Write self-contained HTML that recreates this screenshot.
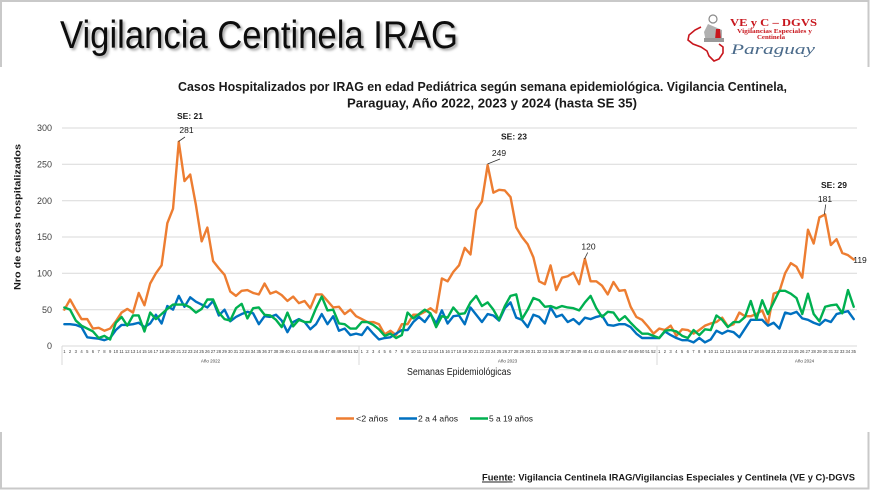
<!DOCTYPE html>
<html><head><meta charset="utf-8">
<style>
html,body{margin:0;padding:0;background:#fff;}
body{width:870px;height:491px;position:relative;overflow:hidden;font-family:"Liberation Sans",sans-serif;}
svg{position:absolute;left:0;top:0;}
.ticks{position:absolute;top:349px;height:6px;display:flex;font-family:"Liberation Sans",sans-serif;font-size:4.2px;line-height:6px;color:#404040;}
.ticks span{flex:1 1 0;text-align:center;white-space:nowrap;}
</style></head>
<body>
<svg width="870" height="491" viewBox="0 0 870 491" xmlns="http://www.w3.org/2000/svg">
<defs>
<filter id="sh" x="-5%" y="-20%" width="115%" height="150%">
<feDropShadow dx="2" dy="2" stdDeviation="1.2" flood-color="#000" flood-opacity="0.35"/>
</filter>
</defs>
<!-- frame -->
<rect x="1" y="1" width="867.5" height="487.5" fill="none" stroke="#c9c9c9" stroke-width="2"/>
<rect x="0" y="67" width="870" height="365" fill="#fff"/>

<!-- header title -->
<text x="60" y="48" font-family="Liberation Sans, sans-serif" font-size="39" fill="#111" textLength="398" lengthAdjust="spacingAndGlyphs" filter="url(#sh)">Vigilancia Centinela IRAG</text>

<!-- logo -->
<g>
<path d="M701,27 L695,30 L689,35 L688,40 L693,44 L701,47 L707,51 L709,56 L714,61 L719,59 L723,53 L723,47 L719,44" fill="none" stroke="#c8161d" stroke-width="1.6"/>
<circle cx="713" cy="19" r="4" fill="none" stroke="#888" stroke-width="1.2"/>
<path d="M708,24 L704,32 L706,42 L722,42 L722,30 Z" fill="#b0b0b0"/>
<path d="M716,29 L720,29 L721,40 L715,40 Z" fill="#c8161d"/>
<rect x="704" y="38" width="20" height="4" fill="#999"/>
<text x="730" y="26" font-family="Liberation Serif, serif" font-weight="bold" font-size="11" fill="#c8161d" textLength="87" lengthAdjust="spacingAndGlyphs">VE y C – DGVS</text>
<text x="737" y="33" font-family="Liberation Serif, serif" font-weight="bold" font-size="6" fill="#c8161d" textLength="75" lengthAdjust="spacingAndGlyphs">Vigilancias Especiales y</text>
<text x="757" y="39" font-family="Liberation Serif, serif" font-weight="bold" font-size="6" fill="#c8161d" textLength="28" lengthAdjust="spacingAndGlyphs">Centinela</text>
<text x="731" y="54" font-family="Liberation Serif, serif" font-style="italic" font-size="15" fill="#4a6a8a" textLength="84" lengthAdjust="spacingAndGlyphs">Paraguay</text>
</g>

<!-- chart title -->
<text x="482.5" y="91" text-anchor="middle" font-family="Liberation Sans, sans-serif" font-weight="bold" font-size="12.5" fill="#1a1a1a" textLength="609" lengthAdjust="spacingAndGlyphs">Casos Hospitalizados por IRAG en edad Pediátrica según semana epidemiológica. Vigilancia Centinela,</text>
<text x="492" y="107.5" text-anchor="middle" font-family="Liberation Sans, sans-serif" font-weight="bold" font-size="12.5" fill="#1a1a1a" textLength="290" lengthAdjust="spacingAndGlyphs">Paraguay, Año 2022, 2023 y 2024 (hasta SE 35)</text>

<!-- gridlines -->
<g stroke="#d9d9d9" stroke-width="1">
<line x1="62" y1="128" x2="857" y2="128"/>
<line x1="62" y1="164.3" x2="857" y2="164.3"/>
<line x1="62" y1="200.7" x2="857" y2="200.7"/>
<line x1="62" y1="237" x2="857" y2="237"/>
<line x1="62" y1="273.3" x2="857" y2="273.3"/>
<line x1="62" y1="309.7" x2="857" y2="309.7"/>
<line x1="62" y1="346" x2="857" y2="346"/>
<line x1="62" y1="346" x2="62" y2="365"/>
<line x1="359" y1="346" x2="359" y2="365"/>
<line x1="657" y1="346" x2="657" y2="365"/>
</g>

<!-- y tick labels -->
<g font-family="Liberation Sans, sans-serif" font-size="9" fill="#404040" text-anchor="end">
<text x="52" y="131.2">300</text>
<text x="52" y="167.5">250</text>
<text x="52" y="203.9">200</text>
<text x="52" y="240.2">150</text>
<text x="52" y="276.5">100</text>
<text x="52" y="312.9">50</text>
<text x="52" y="349.2">0</text>
</g>

<!-- y axis title -->
<text transform="translate(20.5,217) rotate(-90)" text-anchor="middle" font-family="Liberation Sans, sans-serif" font-weight="bold" font-size="9.5" fill="#1a1a1a" textLength="146" lengthAdjust="spacingAndGlyphs">Nro de casos hospitalizados</text>

<!-- year labels -->
<g font-family="Liberation Sans, sans-serif" font-size="4.5" fill="#404040" text-anchor="middle">
<text x="210.5" y="362.5">Año 2022</text>
<text x="507.5" y="362.5">Año 2023</text>
<text x="804.5" y="362.5">Año 2024</text>
</g>

<!-- x axis title -->
<text x="459" y="375" text-anchor="middle" font-family="Liberation Sans, sans-serif" font-size="10" fill="#1a1a1a" textLength="104" lengthAdjust="spacingAndGlyphs">Semanas Epidemiológicas</text>

<!-- series -->
<g transform="translate(64.36,346) scale(5.72,-0.72667)" fill="none" stroke-linejoin="round" stroke-linecap="round">
<polyline vector-effect="non-scaling-stroke" stroke="#ED7D31" stroke-width="2.4" points="0,50 1,64 2,50 3,37 4,37 5,24 6,25 7,21 8,24 9,34 10,46 11,51 12,46 13,73 14,56 15,86 16,100 17,111 18,169 19,189 20,281 21,227 22,236 23,194 24,144 25,163 26,117 27,107 28,98 29,75 30,69 31,76 32,77 33,73 34,71 35,86 36,72 37,75 38,70 39,62 40,68 41,59 42,62 43,52 44,71 45,71 46,62 47,53 48,54 49,44 50,50 51,41 52,37 53,33 54,33 55,30 56,16 57,21 58,15 59,30 60,30 61,43 62,43 63,47 64,52 65,46 66,93 67,89 68,102 69,111 70,135 71,126 72,187 73,199 74,249 75,211 76,215 77,214 78,205 79,163 80,150 81,140 82,122 83,89 84,85 85,111 86,77 87,94 88,96 89,101 90,85 91,120 92,89 93,89 94,83 95,71 96,88 97,76 98,77 99,54 100,40 101,36 102,27 103,17 104,24 105,22 106,28 107,14 108,23 109,22 110,17 111,22 112,28 113,31 114,33 115,39 116,27 117,30 118,46 119,41 120,41 121,44 122,49 123,30 124,72 125,75 126,100 127,114 128,109 129,94 130,160 131,141 132,177 133,181 134,139 135,147 136,128 137,125 138,119"/>
<polyline vector-effect="non-scaling-stroke" stroke="#0070C0" stroke-width="2.4" points="0,30 1,30 2,29 3,26 4,12 5,11 6,10 7,8 8,11 9,22 10,29 11,29 12,30 13,32 14,26 15,31 16,43 17,31 18,55 19,50 20,69 21,54 22,67 23,61 24,57 25,53 26,62 27,42 28,50 29,34 30,40 31,44 32,47 33,45 34,30 35,41 36,40 37,43 38,35 39,19 40,33 41,37 42,33 43,23 44,30 45,44 46,30 47,41 48,21 49,24 50,15 51,17 52,15 53,26 54,17 55,9 56,11 57,12 58,17 59,22 60,22 61,33 62,40 63,33 64,44 65,31 66,49 67,31 68,41 69,42 70,30 71,53 72,43 73,33 74,44 75,42 76,35 77,52 78,60 79,39 80,36 81,26 82,43 83,40 84,31 85,53 86,40 87,43 88,33 89,37 90,30 91,39 92,37 93,40 94,42 95,29 96,28 97,30 98,30 99,26 100,17 101,11 102,11 103,11 104,11 105,20 106,15 107,11 108,8 109,8 110,5 111,11 112,5 113,9 114,21 115,17 116,21 117,19 118,12 119,24 120,36 121,36 122,36 123,28 124,32 125,24 126,46 127,44 128,47 129,38 130,36 131,32 132,29 133,36 134,33 135,44 136,46 137,48 138,37"/>
<polyline vector-effect="non-scaling-stroke" stroke="#00B050" stroke-width="2.4" points="0,53 1,50 2,35 3,28 4,24 5,20 6,11 7,14 8,9 9,32 10,40 11,28 12,42 13,42 14,20 15,46 16,37 17,44 18,51 19,57 20,57 21,57 22,53 23,46 24,51 25,64 26,64 27,46 28,37 29,35 30,52 31,58 32,38 33,52 34,53 35,43 36,42 37,36 38,26 39,46 40,27 41,36 42,33 43,33 44,52 45,68 46,49 47,50 48,31 49,30 50,24 51,24 52,33 53,33 54,29 55,23 56,14 57,17 58,11 59,15 60,46 61,38 62,44 63,50 64,45 65,26 66,41 67,39 68,53 69,44 70,45 71,60 72,69 73,55 74,60 75,50 76,36 77,55 78,69 79,71 80,37 81,50 82,66 83,63 84,54 85,55 86,52 87,55 88,53 89,52 90,49 91,60 92,69 93,52 94,40 95,47 96,46 97,35 98,41 99,32 100,24 101,17 102,17 103,14 104,11 105,21 106,22 107,20 108,14 109,11 110,22 111,15 112,23 113,22 114,42 115,36 116,26 117,33 118,33 119,40 120,62 121,37 122,63 123,44 124,60 125,76 126,76 127,72 128,66 129,44 130,72 131,44 132,34 133,54 134,56 135,57 136,45 137,77 138,54"/>
</g>

<!-- annotations -->
<g font-family="Liberation Sans, sans-serif" fill="#1a1a1a">
<text x="190" y="119" text-anchor="middle" font-weight="bold" font-size="8.5">SE: 21</text>
<text x="186.5" y="133" text-anchor="middle" font-size="8.5">281</text>
<text x="514" y="139.5" text-anchor="middle" font-weight="bold" font-size="8.5">SE: 23</text>
<text x="499" y="156" text-anchor="middle" font-size="8.5">249</text>
<text x="588.5" y="249.5" text-anchor="middle" font-size="8.5">120</text>
<text x="834" y="188" text-anchor="middle" font-weight="bold" font-size="8.5">SE: 29</text>
<text x="825" y="202" text-anchor="middle" font-size="8.5">181</text>
<text x="860" y="263" text-anchor="middle" font-size="8.5">119</text>
</g>
<g stroke="#333" stroke-width="0.8">
<line x1="178.5" y1="141.5" x2="185" y2="137"/>
<line x1="487.5" y1="164" x2="500" y2="159"/>
<line x1="584.5" y1="259" x2="587.7" y2="252.5"/>
<line x1="824.3" y1="214.5" x2="825.7" y2="204.5"/>
</g>

<!-- legend -->
<g stroke-width="2.4">
<line x1="336" y1="418.5" x2="354" y2="418.5" stroke="#ED7D31"/>
<line x1="399" y1="418.5" x2="417" y2="418.5" stroke="#0070C0"/>
<line x1="470" y1="418.5" x2="488" y2="418.5" stroke="#00B050"/>
</g>
<g font-family="Liberation Sans, sans-serif" font-size="8.5" fill="#1a1a1a">
<text x="356" y="421.5" textLength="32" lengthAdjust="spacingAndGlyphs">&lt;2  años</text>
<text x="418" y="421.5" textLength="40" lengthAdjust="spacingAndGlyphs">2 a 4 años</text>
<text x="489" y="421.5" textLength="44" lengthAdjust="spacingAndGlyphs">5 a 19 años</text>
</g>

<!-- footer -->
<text x="482" y="480.5" font-family="Liberation Sans, sans-serif" font-weight="bold" font-size="9" fill="#1a1a1a" textLength="373" lengthAdjust="spacingAndGlyphs"><tspan text-decoration="underline">Fuente</tspan>: Vigilancia  Centinela IRAG/Vigilancias Especiales y Centinela (VE y C)-DGVS</text>
<line x1="482" y1="482" x2="507" y2="482" stroke="#1a1a1a" stroke-width="0.7"/>
</svg>

<div class="ticks" style="left:61.5px;width:297.4px;">
<span>1</span><span>2</span><span>3</span><span>4</span><span>5</span><span>6</span><span>7</span><span>8</span><span>9</span><span>10</span><span>11</span><span>12</span><span>13</span><span>14</span><span>15</span><span>16</span><span>17</span><span>18</span><span>19</span><span>20</span><span>21</span><span>22</span><span>23</span><span>24</span><span>25</span><span>26</span><span>27</span><span>28</span><span>29</span><span>30</span><span>31</span><span>32</span><span>33</span><span>34</span><span>35</span><span>36</span><span>37</span><span>38</span><span>39</span><span>40</span><span>41</span><span>42</span><span>43</span><span>44</span><span>45</span><span>46</span><span>47</span><span>48</span><span>49</span><span>50</span><span>51</span><span>52</span>
</div>
<div class="ticks" style="left:358.9px;width:297.4px;">
<span>1</span><span>2</span><span>3</span><span>4</span><span>5</span><span>6</span><span>7</span><span>8</span><span>9</span><span>10</span><span>11</span><span>12</span><span>13</span><span>14</span><span>15</span><span>16</span><span>17</span><span>18</span><span>19</span><span>20</span><span>21</span><span>22</span><span>23</span><span>24</span><span>25</span><span>26</span><span>27</span><span>28</span><span>29</span><span>30</span><span>31</span><span>32</span><span>33</span><span>34</span><span>35</span><span>36</span><span>37</span><span>38</span><span>39</span><span>40</span><span>41</span><span>42</span><span>43</span><span>44</span><span>45</span><span>46</span><span>47</span><span>48</span><span>49</span><span>50</span><span>51</span><span>52</span>
</div>
<div class="ticks" style="left:656.3px;width:200.2px;">
<span>1</span><span>2</span><span>3</span><span>4</span><span>5</span><span>6</span><span>7</span><span>8</span><span>9</span><span>10</span><span>11</span><span>12</span><span>13</span><span>14</span><span>15</span><span>16</span><span>17</span><span>18</span><span>19</span><span>20</span><span>21</span><span>22</span><span>23</span><span>24</span><span>25</span><span>26</span><span>27</span><span>28</span><span>29</span><span>30</span><span>31</span><span>32</span><span>33</span><span>34</span><span>35</span>
</div>
</body></html>
